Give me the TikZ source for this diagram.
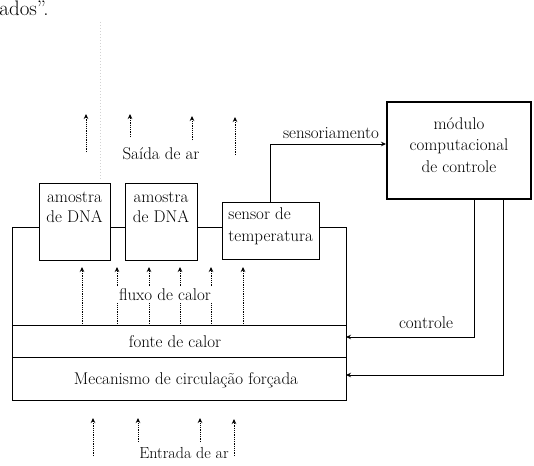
\documentclass[tikz,border=0pt]{standalone}
\usetikzlibrary{arrows.meta}
\begin{document}
\begin{tikzpicture}[x=1pt,y=-1pt,
  line width=0.9pt,
  txt/.style={font=\fontsize{17}{20}\selectfont, inner sep=1pt},
  box/.style={draw, line width=0.9pt, inner sep=0pt},
  thickbox/.style={draw, line width=2pt, inner sep=0pt},
  arr/.style={-{Stealth[length=5pt,width=4.5pt]}},
  flow/.style={dash pattern=on 0.9pt off 0.9pt, line width=0.8pt,
               -{Stealth[length=5pt,width=4.5pt]}},
]
\useasboundingbox (0,0) rectangle (534,465);
\clip (0,0) rectangle (534,465);

% tail of the preceding paragraph
\node[anchor=base west, font=\fontsize{21}{25}\selectfont, inner sep=0pt] (frag) at (-1,16) {ados”.};
% faint bleed-through mark
\draw[gray!35, line width=0.6pt, dash pattern=on 1pt off 2pt] (100,22) -- (100,180);

% corner points of the chamber
\coordinate (tl) at (12,227);
\coordinate (tr) at (346,227);
\coordinate (bl) at (12,400);
\coordinate (br) at (346,400);

% sample holders and temperature sensor
\node[box, minimum width=71pt, minimum height=77pt] (s1) at (74.5,221.5) {};
\node[box, minimum width=72pt, minimum height=77pt] (s2) at (161,221.5) {};
\node[box, minimum width=97pt, minimum height=57pt] (sen) at (270.5,230.5) {};
\node[txt, align=center] (s1t) at (74.5,207) {amostra\\de DNA};
\node[txt, align=center] (s2t) at (161,207) {amostra\\de DNA};
\node[txt, align=left, anchor=west, font=\fontsize{17}{22}\selectfont] (sent) at (227,226) {sensor de\\temperatura};

% control module
\node[thickbox, minimum width=144pt, minimum height=97pt] (mod) at (459,150.5) {};
\node[txt, align=center, font=\fontsize{17}{21.5}\selectfont] (modt) at (459,145) {módulo\\computacional\\de controle};

% chamber walls
\draw (tl -| s1.west) -- (tl) -- (bl) -- (br) -- (tr) -- (tr -| sen.east);
\draw (tl -| s1.east) -- (tl -| s2.west);
\draw (tl -| s2.east) -- (tl -| sen.west);

% heater and forced circulation bands
\coordinate (h1) at (12,325);
\coordinate (h2) at (12,357);
\draw (h1) -- (h1 -| br);
\draw (h2) -- (h2 -| br);
\node[txt] (fonte) at (175,342) {fonte de calor};
\node[txt] (mec) at (186,380) {Mecanismo de circulação forçada};

% sensing and control signals
\draw[arr] (sen.north) |- (mod.west |- 0,144);
\node[txt, anchor=base] (sensl) at (331,139) {sensoriamento};
\draw[arr] ([xshift=15pt]mod.south) |- (br |- 0,337);
\node[txt, anchor=base] (ctl) at (426,328) {controle};
\draw[arr] ([xshift=44pt]mod.south) |- (br |- 0,375);

% heat flow inside the chamber
\foreach \x in {82,117,149,180,211,243}
  \draw[flow] (\x,324) -- (\x,267);
\node[txt, fill=white, inner sep=2pt] (flux) at (165,295) {fluxo de calor};

% air outlet
\draw[flow] (86,152) -- (86,114);
\draw[flow] (130,137) -- (130,114);
\draw[flow] (192,140) -- (192,116);
\draw[flow] (235,155) -- (235,117);
\node[txt] (out) at (161,154) {Saída de ar};

% air inlet
\draw[flow] (93,456) -- (93,418);
\draw[flow] (138,442) -- (138,418);
\draw[flow] (200,442) -- (200,418);
\draw[flow] (234,456) -- (234,419);
\node[txt, font=\fontsize{16}{20}\selectfont] (in) at (184,453) {Entrada de ar};
\end{tikzpicture}
\end{document}
